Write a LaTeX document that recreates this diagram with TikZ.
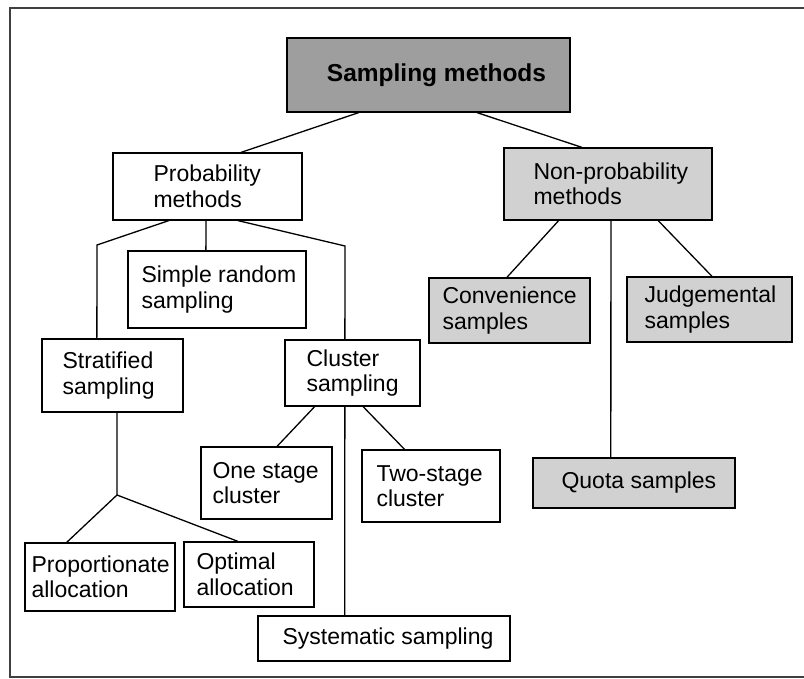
\documentclass[tikz,border=0pt]{standalone}
\usepackage{fontspec}
\setmainfont{Liberation Sans}
\usetikzlibrary{calc}
\tikzset{
  box/.style={draw=black, line width=1.3pt, rectangle, inner sep=0pt},
  txt/.style={anchor=west, inner sep=0pt, align=left,
    font=\fontsize{23}{25.5}\selectfont},
  light/.style={fill=black!18},
  dark/.style={fill=black!38},
  link/.style={line width=1.3pt},
  frame/.style={line width=1.8pt, black!75}
}
\begin{document}
\begin{tikzpicture}[x=1pt,y=-1pt]
\useasboundingbox (0,0) rectangle (804,679);
\fill[white] (0,0) rectangle (804,679);
% frame
\draw[frame] (804,8) -- (10,8) -- (10,677) -- (804,677);

% boxes
\node[box,dark,minimum width=283pt,minimum height=74pt] (S) at (428.5,75) {};
\node[box,minimum width=189pt,minimum height=67pt] (P) at (207.5,186.5) {};
\node[box,light,minimum width=208pt,minimum height=72pt] (N) at (608,184) {};
\node[box,minimum width=178pt,minimum height=77pt] (R) at (217,289.5) {};
\node[box,minimum width=141pt,minimum height=73pt] (T) at (112.5,375.5) {};
\node[box,minimum width=135pt,minimum height=66pt] (C) at (352.5,373) {};
\node[box,minimum width=131pt,minimum height=72pt] (O) at (266.5,483) {};
\node[box,minimum width=138pt,minimum height=72pt] (W) at (431,486) {};
\node[box,minimum width=150pt,minimum height=68pt] (A) at (100,577) {};
\node[box,minimum width=130pt,minimum height=65pt] (B) at (249,574.5) {};
\node[box,minimum width=252pt,minimum height=45pt] (Y) at (384,638.5) {};
\node[box,light,minimum width=161pt,minimum height=65pt] (V) at (509.5,310.5) {};
\node[box,light,minimum width=165pt,minimum height=65pt] (J) at (709.5,309.5) {};
\node[box,light,minimum width=202pt,minimum height=50pt] (Q) at (634,483) {};

% texts
\node[inner sep=0pt,font=\fontsize{24.5}{28}\bfseries] (St) at ([xshift=8pt]S.center) {Sampling methods};
\node[txt] (Pt) at ([xshift=41pt]P.west) {Probability\\methods};
\node[txt] (Nt) at ([xshift=30pt]N.west) {Non-probability\\methods};
\node[txt] (Rt) at ([xshift=14pt]R.west) {Simple random\\sampling};
\node[txt] (Tt) at ([xshift=21pt]T.west) {Stratified\\sampling};
\node[txt] (Ct) at ([xshift=22pt]C.west) {Cluster\\sampling};
\node[txt] (Ot) at ([xshift=12pt]O.west) {One stage\\cluster};
\node[txt] (Wt) at ([xshift=15pt]W.west) {Two-stage\\cluster};
\node[txt] (At) at ([xshift=7pt]A.west) {Proportionate\\allocation};
\node[txt] (Bt) at ([xshift=13pt]B.west) {Optimal\\allocation};
\node[txt] (Yt) at ([xshift=25pt]Y.west) {Systematic sampling};
\node[txt] (Vt) at ([xshift=14pt]V.west) {Convenience\\samples};
\node[txt] (Jt) at ([xshift=18pt]J.west) {Judgemental\\samples};
\node[txt] (Qt) at ([xshift=29pt]Q.west) {Quota samples};

% connectors
\draw[link] ($(S.south west)!0.254!(S.south east)$) -- ($(P.north west)!0.677!(P.north east)$);
\draw[link] ($(S.south west)!0.671!(S.south east)$) -- ($(N.north west)!0.375!(N.north east)$);

\coordinate (pl) at (97,245);
\coordinate (pr) at (345,246);
\draw[link] ($(P.south west)!0.296!(P.south east)$) -- (pl) -- ($(T.north west)!0.39!(T.north east)$);
\draw[link] ($(P.south west)!0.492!(P.south east)$) -- ($(R.north west)!0.438!(R.north east)$);
\draw[link] ($(P.south west)!0.661!(P.south east)$) -- (pr) -- ($(C.north west)!0.444!(C.north east)$);

\draw[link] ($(N.south west)!0.264!(N.south east)$) -- ($(V.north west)!0.484!(V.north east)$);
\draw[link] ($(N.south west)!0.514!(N.south east)$) -- ($(Q.north west)!0.386!(Q.north east)$);
\draw[link] ($(N.south west)!0.74!(N.south east)$) -- ($(J.north west)!0.515!(J.north east)$);

\coordinate (tj) at (117,495);
\draw[link] ($(T.south west)!0.532!(T.south east)$) -- (tj);
\draw[link] (tj) -- ($(A.north west)!0.28!(A.north east)$);
\draw[link] (tj) -- ($(B.north west)!0.415!(B.north east)$);

\draw[link] ($(C.south west)!0.222!(C.south east)$) -- ($(O.north west)!0.58!(O.north east)$);
\draw[link] ($(C.south west)!0.444!(C.south east)$) -- ($(Y.north west)!0.345!(Y.north east)$);
\draw[link] ($(C.south west)!0.578!(C.south east)$) -- ($(W.north west)!0.31!(W.north east)$);
\end{tikzpicture}
\end{document}
